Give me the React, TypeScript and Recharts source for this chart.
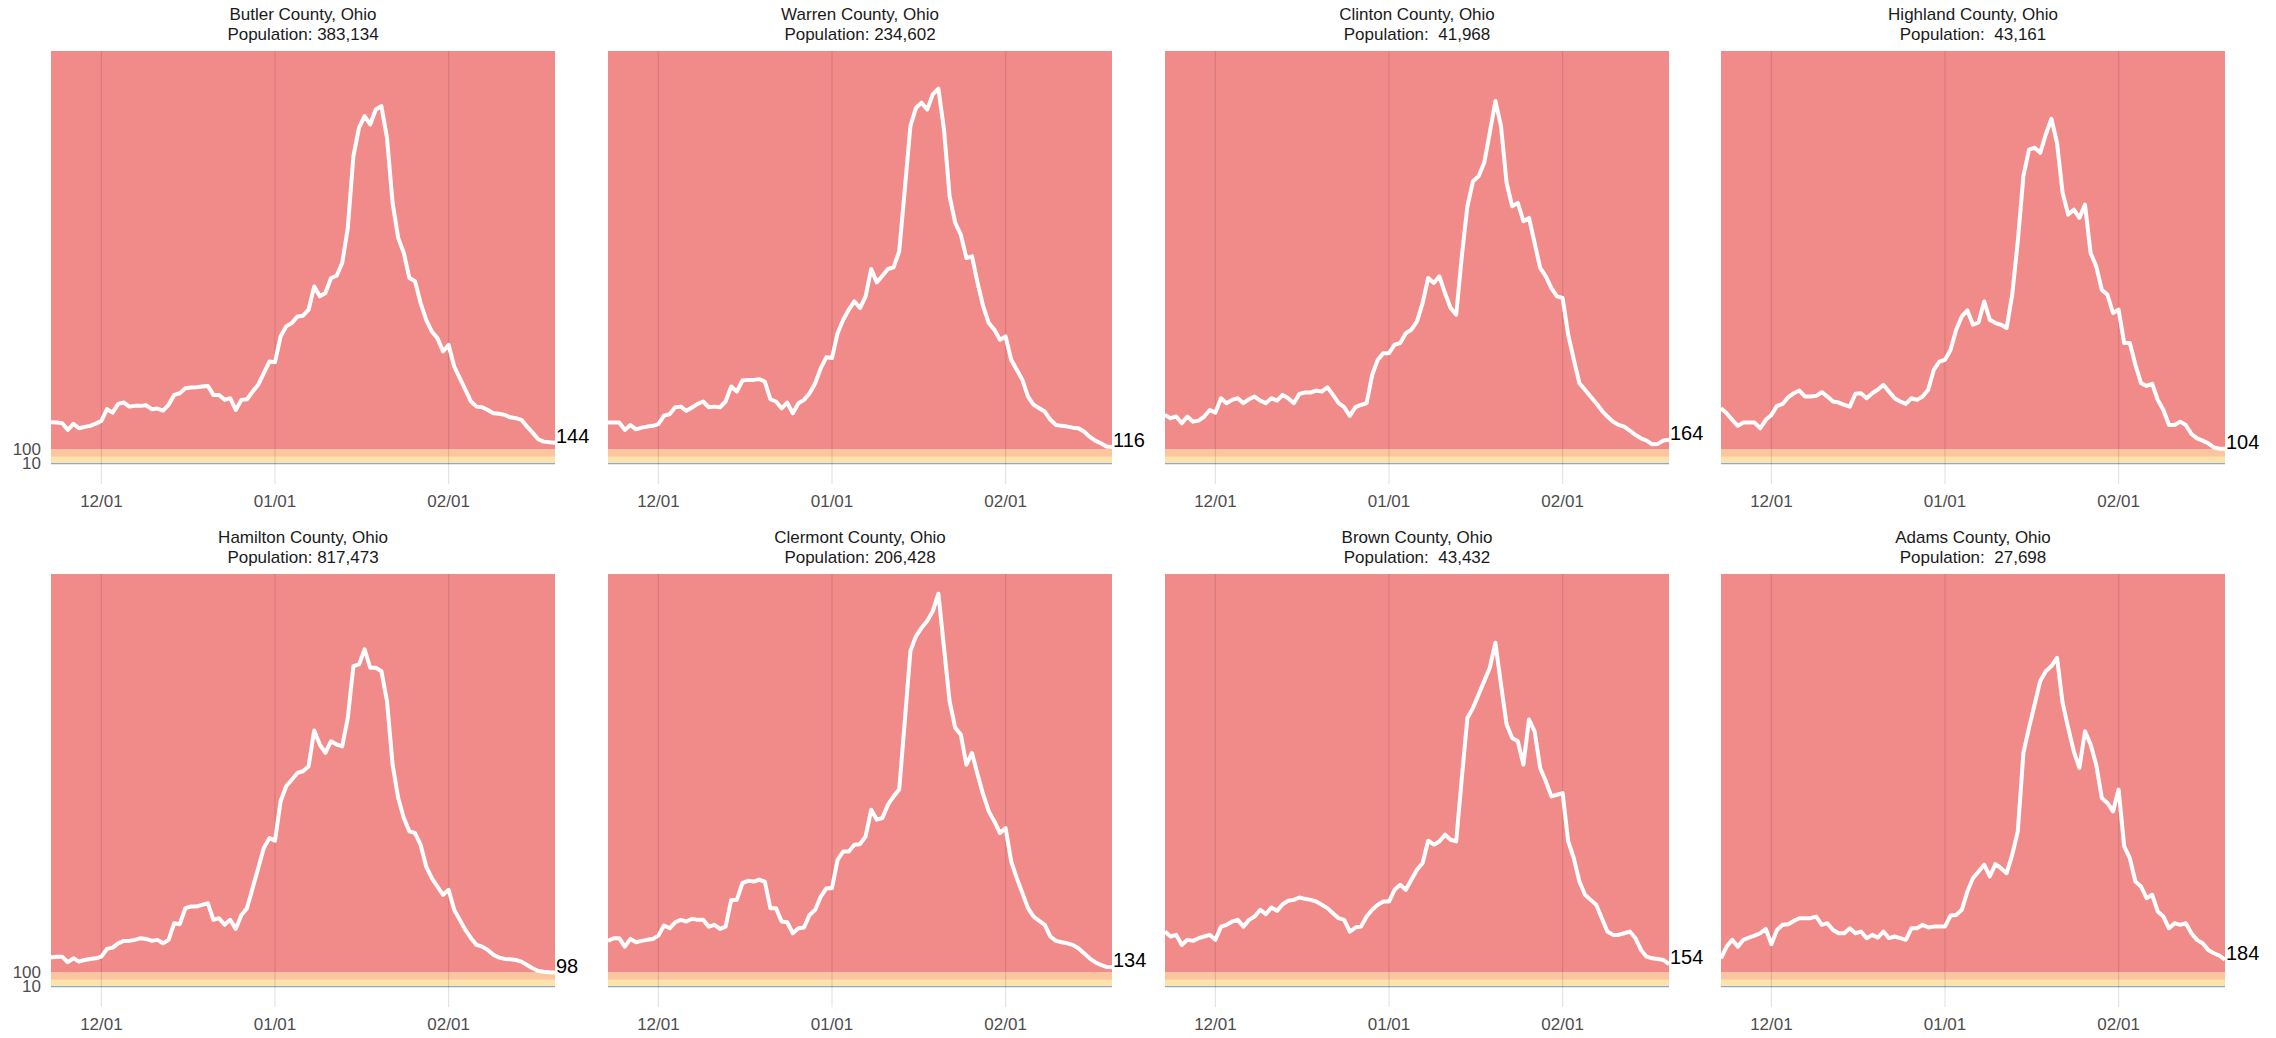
import React from "react";
import { LineChart, Line, XAxis, YAxis, ReferenceArea, ReferenceLine, LabelList } from "recharts";

// ---- categories ----
const START = Date.UTC(2021, 10, 22);
const dates: string[] = Array.from({ length: 91 }, (_, i) =>
  new Date(START + i * 86400000).toISOString().slice(0, 10)
);
const tickDates = ["2021-12-01", "2022-01-01", "2022-02-01"];
const tickLabels = ["12/01", "01/01", "02/01"];

const counties = [
  "Butler County, Ohio",
  "Warren County, Ohio",
  "Clinton County, Ohio",
  "Highland County, Ohio",
  "Hamilton County, Ohio",
  "Clermont County, Ohio",
  "Brown County, Ohio",
  "Adams County, Ohio",
];
const populations = ["383,134", "234,602", "41,968", "43,161", "817,473", "206,428", "43,432", "27,698"];

// ---- series values (cases per 100k) ----
const butler = [
  280, 278, 273, 229, 269, 240, 249, 256, 271, 289,
  367, 344, 402, 411, 384, 389, 389, 393, 367, 371,
  358, 396, 462, 473, 507, 511, 513, 518, 522, 462,
  462, 429, 440, 362, 429, 433, 484, 529, 607, 684,
  680, 851, 918, 940, 984, 989, 1029, 1184, 1118, 1140,
  1240, 1255, 1340, 1573, 2051, 2240, 2318, 2262, 2362, 2384,
  2173, 1740, 1507, 1407, 1240, 1218, 1073, 962, 884, 840,
  751, 795, 651, 573, 496, 418, 384, 380, 362, 340,
  336, 329, 313, 307, 296, 251, 211, 167, 151, 147,
  144,
];
const warren = [
  278, 278, 278, 229, 262, 233, 244, 251, 256, 267,
  324, 333, 380, 384, 356, 378, 402, 418, 380, 384,
  380, 418, 518, 484, 558, 562, 562, 567, 551, 433,
  418, 373, 411, 340, 407, 429, 473, 540, 640, 713,
  707, 873, 962, 1029, 1084, 1040, 1118, 1300, 1211, 1255,
  1300, 1311, 1418, 1829, 2251, 2373, 2407, 2362, 2462, 2500,
  2229, 1784, 1607, 1529, 1373, 1384, 1207, 1051, 940, 895,
  829, 851, 696, 629, 562, 451, 396, 373, 351, 296,
  262, 256, 251, 244, 240, 218, 184, 158, 140, 118,
  116,
];
const clinton = [
  329, 307, 318, 273, 318, 284, 291, 318, 362, 344,
  440, 407, 429, 440, 407, 433, 451, 424, 407, 440,
  424, 462, 440, 407, 469, 478, 478, 491, 484, 513,
  462, 407, 380, 322, 380, 395, 407, 596, 696, 740,
  740, 796, 807, 873, 896, 951, 1073, 1240, 1207, 1251,
  1140, 1040, 996, 1384, 1718, 1884, 1918, 2007, 2207, 2418,
  2251, 1873, 1718, 1740, 1618, 1640, 1473, 1307, 1251, 1173,
  1118, 1107, 862, 696, 540, 496, 451, 407, 358, 318,
  284, 262, 251, 224, 196, 173, 158, 133, 136, 158,
  164,
];
const highland = [
  373, 340, 296, 256, 278, 278, 278, 240, 296, 329,
  389, 402, 447, 473, 491, 451, 451, 456, 480, 451,
  418, 411, 396, 384, 469, 473, 440, 473, 496, 529,
  484, 440, 418, 402, 440, 429, 451, 496, 629, 684,
  696, 762, 896, 984, 1024, 929, 945, 1084, 962, 940,
  929, 907, 1129, 1484, 1918, 2095, 2107, 2073, 2195, 2300,
  2140, 1807, 1662, 1695, 1640, 1729, 1407, 1318, 1162, 1129,
  1007, 1029, 807, 807, 662, 540, 522, 536, 429, 362,
  262, 262, 284, 262, 202, 173, 158, 140, 113, 104,
  104,
];
const hamilton = [
  198, 204, 204, 167, 193, 171, 182, 189, 193, 204,
  256, 264, 293, 309, 309, 316, 327, 322, 309, 316,
  293, 316, 427, 420, 527, 538, 538, 549, 560, 449,
  460, 416, 449, 389, 482, 527, 660, 793, 927, 993,
  976, 1238, 1338, 1382, 1427, 1438, 1471, 1709, 1616, 1560,
  1638, 1616, 1604, 1793, 2138, 2149, 2249, 2127, 2127, 2104,
  1904, 1482, 1260, 1127, 1038, 1027, 949, 804, 727, 671,
  616, 649, 516, 449, 382, 327, 282, 271, 249, 216,
  198, 189, 187, 182, 171, 149, 127, 109, 104, 100,
  98,
];
const clermont = [
  309, 327, 327, 271, 322, 300, 309, 316, 322, 344,
  411, 393, 433, 449, 438, 456, 449, 449, 404, 416,
  389, 404, 582, 582, 693, 709, 704, 716, 704, 527,
  527, 438, 433, 360, 393, 398, 482, 516, 604, 660,
  660, 849, 904, 904, 949, 953, 1004, 1182, 1116, 1127,
  1216, 1271, 1316, 1771, 2238, 2338, 2393, 2438, 2504, 2620,
  2260, 1904, 1727, 1682, 1482, 1560, 1416, 1282, 1171, 1104,
  1027, 1060, 838, 727, 627, 527, 471, 442, 416, 338,
  309, 300, 293, 282, 260, 227, 193, 167, 149, 136,
  134,
];
const brown = [
  371, 338, 349, 282, 316, 309, 327, 338, 349, 316,
  404, 416, 438, 449, 404, 449, 471, 516, 487, 531,
  509, 553, 576, 582, 598, 589, 582, 571, 549, 527,
  493, 460, 449, 371, 398, 404, 471, 516, 549, 571,
  571, 649, 682, 649, 716, 782, 827, 976, 949, 971,
  1016, 982, 971, 1393, 1793, 1860, 1949, 2038, 2127, 2293,
  2016, 1749, 1660, 1638, 1482, 1782, 1704, 1460, 1371, 1271,
  1282, 1293, 971, 860, 704, 616, 582, 549, 460, 371,
  349, 349, 360, 371, 327, 249, 204, 193, 189, 182,
  154,
];
const adams = [
  193, 271, 316, 271, 316, 331, 344, 360, 389, 287,
  382, 416, 420, 442, 460, 460, 460, 471, 416, 427,
  382, 360, 360, 393, 360, 371, 327, 349, 331, 371,
  327, 338, 327, 316, 393, 393, 416, 398, 404, 404,
  404, 478, 482, 516, 638, 727, 771, 816, 738, 820,
  793, 760, 882, 1038, 1560, 1727, 1882, 2038, 2104, 2138,
  2193, 1893, 1727, 1571, 1460, 1704, 1616, 1482, 1260, 1227,
  1171, 1316, 938, 860, 704, 671, 593, 616, 504, 471,
  393, 427, 416, 427, 360, 316, 293, 249, 227, 211,
  184,
];

const seriesList = [butler, warren, clinton, highland, hamilton, clermont, brown, adams];

// transmission bands
const bandBreaks = [0, 10, 50, 100];
const bandColors = ["#8EAACB", "#FDE3A9", "#FBC59E", "#F08B8A"];
const yTicks = [10, 100];

const allMax = Math.max(...seriesList.map((s) => Math.max(...s)));
const yMin = -0.05 * allMax;
const yMax = 1.05 * allMax;

const tickIdx = tickDates.map((d) => dates.indexOf(d));
const tickFmt = (v: number) => tickLabels[tickIdx.indexOf(v)] ?? "";

const FONT = '"Liberation Sans", Arial, Helvetica, sans-serif';

function makeEndLabel(lastIndex: number) {
  return (props: any) => {
    const { index, value } = props;
    if (index !== lastIndex) return null;
    const x = props.x ?? props.viewBox?.x;
    const y = props.y ?? props.viewBox?.y;
    if (x == null || y == null) return null;
    return (
      <text x={x + 1} y={y} fontSize={20} fill="#000" fontFamily={FONT}>
        {value}
      </text>
    );
  };
}

function Panel({ idx }: { idx: number }) {
  const values = seriesList[idx];
  const data = values.map((v, i) => ({ x: i, date: dates[i], v }));
  const col = idx % 4;
  const row = Math.floor(idx / 4);
  const left = Math.round(col * 556.8);
  const top = 51 + row * 523;
  const showY = col === 0;
  const bands = bandColors.map((c, i) => ({
    y1: bandBreaks[i],
    y2: i < bandBreaks.length - 1 ? bandBreaks[i + 1] : yMax,
    c,
  }));
  return (
    <div style={{ position: "absolute", left, top, width: 600, height: 473 }}>
      <div
        style={{
          position: "absolute",
          left: 51,
          top: -46.5,
          width: 504,
          textAlign: "center",
          fontSize: 17,
          lineHeight: "20px",
          color: "#1a1a1a",
          whiteSpace: "pre",
          fontFamily: FONT,
        }}
      >
        {counties[idx] + "\nPopulation: " + populations[idx].padStart(7, " ")}
      </div>
      <LineChart width={600} height={473} data={data} margin={{ top: 0, right: 45, bottom: 0, left: 0 }}>
        <XAxis
          dataKey="x"
          type="number"
          domain={[0, values.length - 1]}
          ticks={tickIdx}
          tickFormatter={tickFmt}
          interval={0}
          axisLine={false}
          tickLine={false}
          tickSize={0}
          tickMargin={11}
          height={40}
          tick={{ fill: "#4d4d4d", fontSize: 17 }}
        />
        <YAxis
          type="number"
          domain={[yMin, yMax]}
          allowDataOverflow
          ticks={yTicks}
          interval={0}
          width={51}
          axisLine={false}
          tickLine={false}
          tickSize={0}
          tickMargin={10}
          tick={showY ? { fill: "#4d4d4d", fontSize: 17 } : false}
        />
        {bands.map((b, i) => (
          <ReferenceArea key={"b" + i} y1={b.y1} y2={b.y2} fill={b.c} fillOpacity={1} stroke="none" ifOverflow="visible" />
        ))}
        {tickIdx.map((t) => (
          <ReferenceLine key={"g" + t} x={t} stroke="rgba(0,0,0,0.1)" strokeWidth={1.3} />
        ))}
        <Line
          dataKey="v"
          type="linear"
          stroke="#ffffff"
          strokeWidth={4}
          strokeLinejoin="round"
          dot={false}
          activeDot={false}
          isAnimationActive={false}
        >
          <LabelList dataKey="v" content={makeEndLabel(values.length - 1)} />
        </Line>
      </LineChart>
    </div>
  );
}

export default function App() {
  return (
    <div
      style={{
        position: "absolute",
        left: 0,
        top: 0,
        width: 2276,
        height: 1038,
        background: "#fff",
        fontFamily: FONT,
        overflow: "hidden",
      }}
    >
      {seriesList.map((_, i) => (
        <Panel key={i} idx={i} />
      ))}
    </div>
  );
}
